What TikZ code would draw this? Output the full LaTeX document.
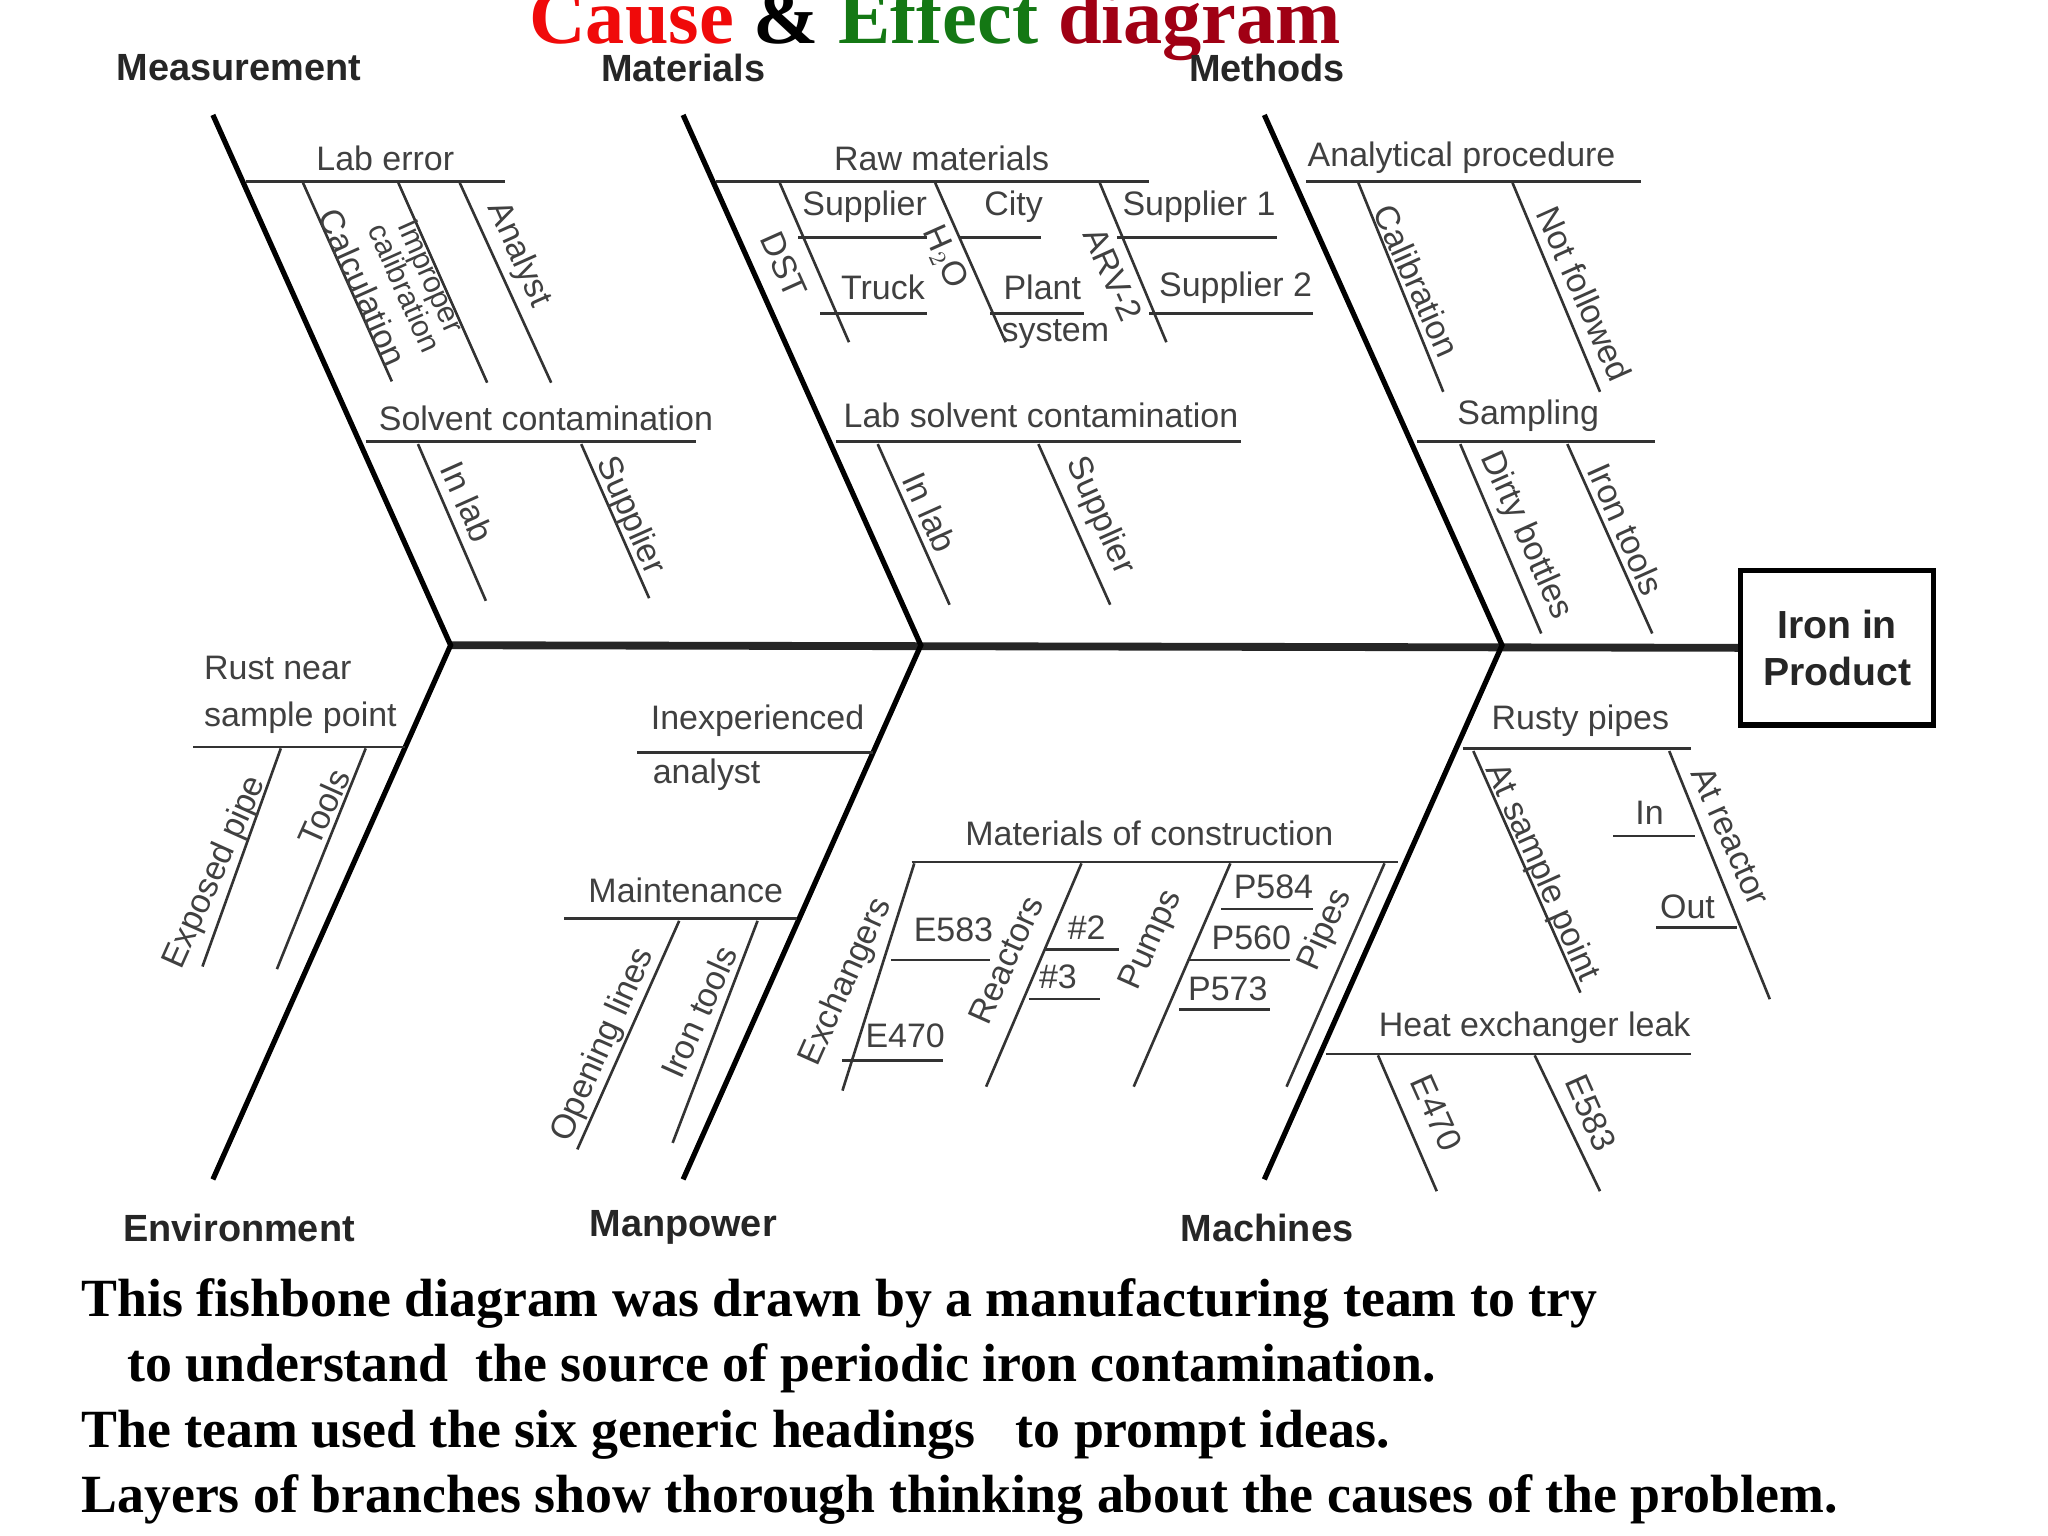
\documentclass[tikz,border=0pt]{standalone}
\usepackage{fontspec}
\setmainfont{Liberation Serif}
\newfontfamily\lsans{Liberation Sans}
\definecolor{cred}{RGB}{240,10,10}
\definecolor{cgreen}{RGB}{20,120,20}
\definecolor{cdred}{RGB}{160,0,20}
\begin{document}
\begin{tikzpicture}[x=0.5pt,y=-0.5pt,
  bone/.style={line width=2pt,black},
  spine/.style={line width=3pt,black!85},
  sub/.style={line width=1pt,black!80},
  lab/.style={font=\lsans\fontsize{13}{13}\selectfont,text=black!75,inner sep=0pt},
  cat/.style={font=\lsans\bfseries\fontsize{14.5}{14.5}\selectfont,text=black!85,inner sep=0pt},
  dn/.style={lab,rotate=-65.9},
  up/.style={lab,rotate=65.9},
  para/.style={font=\bfseries\fontsize{20.6}{20.6}\selectfont,anchor=base west,inner sep=0pt}]
\useasboundingbox (0,0) rectangle (1568,1176);
% title
\node[inner sep=0pt,anchor=base] (title) at (716,33) {\fontsize{30}{30}\selectfont\bfseries\textcolor{cred}{Cause} \textcolor{black}{\&} \textcolor{cgreen}{Effect} \textcolor{cdred}{diagram}};
% spine and effect
\coordinate (s0) at (345,494);
\node[draw,line width=2pt,minimum width=74pt,minimum height=59pt,inner sep=0pt,align=center,font=\lsans\bfseries\fontsize{15}{18}\selectfont,text=black!85] (eff) at (1406.5,496) {Iron in\\Product};
\draw[spine] (s0) -- (eff.west);
\coordinate (j1) at (345,494); \coordinate (j2) at (705,494); \coordinate (j3) at (1150,494);
\coordinate (t1) at (163,88); \coordinate (t2) at (523,88); \coordinate (t3) at (968,88);
\coordinate (b1) at (163,903); \coordinate (b2) at (523,903); \coordinate (b3) at (968,903);
\foreach \i in {1,2,3}{\draw[bone] (t\i) -- (j\i) -- (b\i);}
\node[cat] (c1) at (183,52) {Measurement};
\node[cat] (c2) at (523,52) {Materials};
\node[cat] (c3) at (970,52) {Methods};
\node[cat] (c4) at (183,940) {Environment};
\node[cat] (c5) at (523,940) {Manpower};
\node[cat] (c6) at (970,940) {Machines};
% ---- Measurement
\draw[sub] (188,139) -- (387,139); \node[lab] (le) at (295,121) {Lab error};
\draw[sub] (232,140) -- (300,292); \node[dn] (calc) at (278,220) {Calculation};
\draw[sub] (305,140) -- (373,293); \node[dn,align=center,font=\lsans\fontsize{11.5}{11}\selectfont] (imp) at (320,216) {Improper\\calibration};
\draw[sub] (352,140) -- (422,293); \node[dn] (an) at (397,195) {Analyst};
\draw[sub] (280,338) -- (533,338); \node[lab] (sc) at (418,320) {Solvent contamination};
\draw[sub] (320,340) -- (372,460); \node[dn] (il1) at (358,384) {In lab};
\draw[sub] (445,340) -- (497,458); \node[dn] (su1) at (482,395) {Supplier};
% ---- Materials
\draw[sub] (548,139) -- (880,139); \node[lab] (rm) at (721,121) {Raw materials};
\draw[sub] (597,140) -- (650,262); \node[dn] (dst) at (600,203) {DST};
\draw[sub] (611,182) -- (710,182); \node[lab] (sp) at (662,158) {Supplier};
\draw[sub] (628,240) -- (710,240); \node[lab] (tr) at (676,220) {Truck};
\draw[sub] (716,140) -- (770,262); \node[dn] (h2o) at (723,197) {H$_2$O};
\draw[sub] (735,182) -- (797,182); \node[lab] (city) at (776,158) {City};
\draw[sub] (758,240) -- (830,240); \node[lab] (pl) at (798,220) {Plant};
\node[lab] (sy) at (808,256) {system};
\draw[sub] (842,140) -- (893,262); \node[dn] (arv) at (852,210) {ARV-2};
\draw[sub] (855,182) -- (978,182); \node[lab] (s1) at (918,158) {Supplier 1};
\draw[sub] (880,240) -- (1005,240); \node[lab] (s2) at (946,220) {Supplier 2};
\draw[sub] (640,338) -- (950,338); \node[lab] (lsc) at (797,318) {Lab solvent contamination};
\draw[sub] (672,340) -- (727,463); \node[dn] (il2) at (712,392) {In lab};
\draw[sub] (795,340) -- (850,463); \node[dn] (su2) at (842,395) {Supplier};
% ---- Methods
\draw[sub] (1000,139) -- (1256,139); \node[lab] (ap) at (1119,121) {Analytical procedure};
\draw[sub] (1040,140) -- (1105,300); \node[dn] (cal) at (1085,215) {Calibration};
\draw[sub] (1158,140) -- (1225,300); \node[dn] (nf) at (1213,225) {Not followed};
\draw[sub] (1085,338) -- (1267,338); \node[lab] (samp) at (1170,318) {Sampling};
\draw[sub] (1118,340) -- (1180,485); \node[dn] (db) at (1168,410) {Dirty bottles};
\draw[sub] (1200,340) -- (1265,485); \node[dn] (it) at (1245,405) {Iron tools};
% ---- Environment
\node[lab,align=left,font=\lsans\fontsize{13}{18}\selectfont] (rust) at (230,532) {Rust near\\sample point};
\draw[sub] (148,572) -- (310,572);
\draw[sub] (215,573) -- (155,740); \node[up] (ep) at (165,668) {Exposed pipe};
\draw[sub] (280,573) -- (212,742); \node[up] (tl) at (248,618) {Tools};
% ---- Manpower
\node[lab] (inx) at (580,552) {Inexperienced};
\node[lab] (anl) at (541,593) {analyst};
\draw[sub] (488,576) -- (668,576);
\draw[sub] (432,703) -- (610,703); \node[lab] (mnt) at (525,682) {Maintenance};
\draw[sub] (520,705) -- (442,880); \node[up] (ol) at (462,800) {Opening lines};
\draw[sub] (580,705) -- (515,875); \node[up] (it2) at (535,775) {Iron tools};
% ---- Machines
\node[lab] (moc) at (880,638) {Materials of construction};
\draw[sub] (698,660) -- (1070,660);
\draw[sub] (700,661) -- (645,835); \node[up] (exc) at (648,752) {Exchangers};
\draw[sub] (682,735) -- (758,735); \node[lab] (e583) at (730,712) {E583};
\draw[sub] (645,812) -- (722,812); \node[lab] (e470) at (693,793) {E470};
\draw[sub] (828,661) -- (755,832); \node[up] (rea) at (770,735) {Reactors};
\draw[sub] (800,727) -- (857,727); \node[lab] (n2) at (832,710) {\#2};
\draw[sub] (788,765) -- (842,765); \node[lab] (n3) at (810,748) {\#3};
\draw[sub] (942,661) -- (868,832); \node[up] (pmp) at (882,720) {Pumps};
\draw[sub] (935,696) -- (1005,696); \node[lab] (p584) at (975,679) {P584};
\draw[sub] (910,735) -- (988,735); \node[lab] (p560) at (958,718) {P560};
\draw[sub] (903,773) -- (972,773); \node[lab] (p573) at (940,757) {P573};
\draw[sub] (1060,661) -- (985,832); \node[up] (pip) at (1015,712) {Pipes};
\node[lab] (rp) at (1210,552) {Rusty pipes};
\draw[sub] (1120,573) -- (1295,573);
\draw[sub] (1128,575) -- (1210,760); \node[dn] (asp) at (1180,668) {At sample point};
\draw[sub] (1278,575) -- (1355,765); \node[dn] (ar) at (1325,640) {At reactor};
\draw[sub] (1235,640) -- (1298,640); \node[lab] (in) at (1263,622) {In};
\draw[sub] (1268,710) -- (1330,710); \node[lab] (out) at (1292,694) {Out};
\node[lab] (hel) at (1175,787) {Heat exchanger leak};
\draw[sub] (1015,807) -- (1295,807);
\draw[sub] (1055,808) -- (1100,912); \node[dn] (x470) at (1100,852) {E470};
\draw[sub] (1175,808) -- (1225,912); \node[dn] (x583) at (1218,852) {E583};
% ---- paragraph
\node[para] (p1) at (62,1008) {This fishbone diagram was drawn by a manufacturing team to try};
\node[para] (p2) at (97,1058) {to understand\ \ the source of periodic iron contamination.};
\node[para] (p3) at (62,1108) {The team used the six generic headings\ \ \ to prompt ideas.};
\node[para] (p4) at (62,1158) {Layers of branches show thorough thinking about the causes of the problem.};
\end{tikzpicture}
\end{document}
